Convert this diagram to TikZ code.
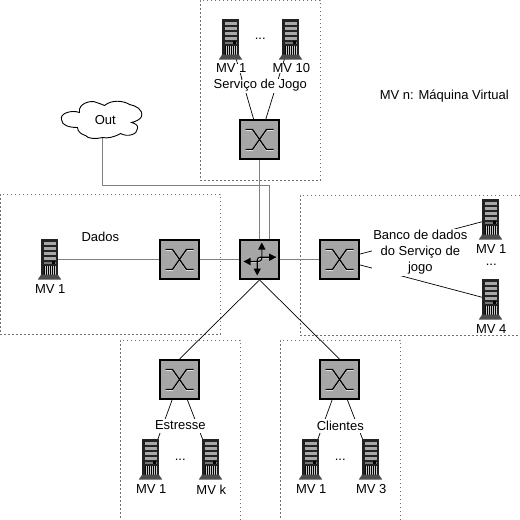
\documentclass[tikz,border=0pt]{standalone}
\usepackage{fontspec}
\setmainfont{Liberation Sans}
\usetikzlibrary{arrows.meta}
\definecolor{linkgray}{HTML}{808080}
\definecolor{zonegray}{HTML}{707070}
\definecolor{boxgray}{HTML}{A6A6A6}
\definecolor{srvdark}{HTML}{222222}
\definecolor{srvlight}{HTML}{A8A8A8}
\tikzset{
  zone/.style={draw=zonegray,line width=1.6pt,dash pattern=on 1.6pt off 2.4pt,inner sep=0pt,anchor=north west},
  link/.style={draw=linkgray,line width=1.7pt},
  wire/.style={draw=black,line width=0.7pt},
  swbox/.style={draw=black,fill=boxgray,line width=2pt,minimum size=39pt,inner sep=0pt},
  srvpt/.style={inner sep=0pt,minimum size=1pt},
  lbl/.style={inner sep=0pt,font=\fontsize{13}{16}\selectfont,text=black,yshift=-1pt,xshift=0.8pt},
  mask/.style={lbl,fill=white,align=center},
  pics/switchsym/.style={code={
    \foreach \c/\d/\o in {white/0.9pt/0.9,black/1.3pt/0}{
      \draw[\c,line width=\d,yshift=-\o pt] (-14,-10) -- (-7,-10) -- (7,10) -- (14,10);
      \draw[\c,line width=\d,yshift=-\o pt] (-14,10) -- (-7,10) -- (7,-10) -- (14,-10);
    }
  }},
  pics/server/.style={code={
    \fill[srvdark] (-8.3,-21) rectangle (8.3,17);
    \foreach \y in {-18,-13,-8,-3}{\fill[srvlight] (-6,\y) rectangle (6,\y+3.8);}
    \fill[srvlight!70!black] (-6,2) rectangle (6,4.5);
    \fill[black] (2.5,1.5) rectangle (5,4);
    \fill[white!80!black] (-6,6) rectangle (6,15);
    \foreach \x in {-5,-3,-1,1,3,5}{\draw[black,line width=1pt] (\x,6) -- (\x,15);}
    \fill[black!70] (-8.3,15) -- (8.3,15) -- (11.7,20) -- (-11.7,20) -- cycle;
  }}
}
\begin{document}
\begin{tikzpicture}[x=1pt,y=-1pt]
\useasboundingbox[clip] (0.5,0.5) rectangle (520.5,520.5);
% zones
\node[zone,minimum width=120pt,minimum height=180pt] (zjogo) at (200,0) {};
\node[zone,minimum width=220pt,minimum height=140pt] (zdados) at (0,194) {};
\node[zone,minimum width=220pt,minimum height=140pt] (zbanco) at (300,195) {};
\node[zone,minimum width=120pt,minimum height=180pt] (zestresse) at (120,340) {};
\node[zone,minimum width=120pt,minimum height=180pt] (zclientes) at (280,340) {};
% anchors
\node[srvpt] (ja) at (231,40) {};
\node[srvpt] (jb) at (291,40) {};
\node[srvpt] (da) at (50,260) {};
\node[srvpt] (ba) at (491,220) {};
\node[srvpt] (bb) at (491,300) {};
\node[srvpt] (ea) at (151,460) {};
\node[srvpt] (eb) at (211,460) {};
\node[srvpt] (ca) at (311,460) {};
\node[srvpt] (cb) at (371,460) {};
\node[swbox] (swj) at (260,140) {};
\node[swbox] (swd) at (180,260) {};
\node[swbox] (swb) at (340,260) {};
\node[swbox] (swe) at (180,380) {};
\node[swbox] (swc) at (340,380) {};
\node[swbox] (rt) at (260,260) {};
\node[inner sep=0pt,minimum width=80pt,minimum height=36pt] (out) at (103,120) {};
\coordinate (bend) at (270,186);
\coordinate (rtin) at (270,240);
% connectors
\draw[link] (out.south) |- (bend) -- (rtin);
\draw[link] (swj) -- (rt);
\draw[link] (da) -- (swd);
\draw[link] (swd) -- (rt);
\draw[link] (rt) -- (swb);
\draw[wire] (rt.south) -- (swe.north);
\draw[wire] (rt.south) -- (swc.north);
\foreach \s/\t in {ja/swj,jb/swj,ba/swb,bb/swb,ea/swe,eb/swe,ca/swc,cb/swc}{\draw[wire] (\s) -- (\t);}
% boxes redrawn above the links
\foreach \n in {swj,swd,swb,swe,swc,rt}{\node[swbox] at (\n) {};}
\foreach \n in {swj,swd,swb,swe,swc}{\pic at (\n) {switchsym};}
% router arrows
\begin{scope}[shift={(rt)}]
  \foreach \c/\d/\o in {white/0.8pt/0.8,black/1.1pt/0}{
    \draw[\c,line width=\d,yshift=-\o pt,rounded corners=3pt] (16,-2.3) -- (-2.3,-2.3) -- (-2.3,14);
    \draw[\c,line width=\d,yshift=-\o pt,rounded corners=3pt] (-14,2) -- (2.3,2) -- (2.3,-15);
  }
  \fill[black] (16.7,-2.3) -- (9.7,-6) -- (9.7,1.4) -- cycle;
  \fill[black] (-16,2) -- (-9,-1.7) -- (-9,5.7) -- cycle;
  \fill[black] (2.3,-17) -- (-1.4,-10) -- (6,-10) -- cycle;
  \fill[black] (-2.3,16) -- (-6,9) -- (1.4,9) -- cycle;
\end{scope}
% cloud
\draw[black,line width=0.9pt,fill=white] (62,120)
  .. controls (60,114) and (72,110) .. (80,113)
  .. controls (78,104) and (92,100) .. (97,103)
  .. controls (100,104) and (103,105) .. (105,106)
  .. controls (112,100) and (124,101) .. (130,105)
  .. controls (136,106) and (144,110) .. (142,117)
  .. controls (141,120) and (136,122) .. (132,123)
  .. controls (136,124) and (139,126) .. (138,129)
  .. controls (138,135) and (128,138) .. (121,134)
  .. controls (114,138) and (108,139) .. (103,138)
  .. controls (96,140) and (88,139) .. (86,136)
  .. controls (82,135) and (78,132) .. (78,128)
  .. controls (70,128) and (62,126) .. (62,120) -- cycle;
\node[lbl] (outtxt) at (105,120) {Out};
% servers
\foreach \n in {ja,jb,da,ba,bb,ea,eb,ca,cb}{\pic at (\n) {server};}
% masks and labels
\node[mask,minimum width=96pt,minimum height=14pt] (tjogo) at (260,85) {Serviço de Jogo};
\node[mask,minimum width=96pt,minimum height=47pt] (tbanco) at (420,251.5) {Banco de dados\\do Serviço de\\jogo};
\node[mask,minimum height=14pt,minimum width=54pt] (testresse) at (180,425) {Estresse};
\node[mask,minimum height=14pt,minimum width=50pt] (tclientes) at (340,425) {Clientes};
\node[lbl] (tdados) at (100,236) {Dados};
\node[lbl] (tlegend) at (444,96) {MV n: Máquina Virtual};
\node[mask] (l1) at (231,68) {MV 1};
\node[mask] (l2) at (291,68) {MV 10};
\node[mask] (l3) at (50,289) {MV 1};
\node[mask] (l4) at (491,249) {MV 1};
\node[mask] (l5) at (491,329) {MV 4};
\node[mask] (l6) at (151,489) {MV 1};
\node[mask] (l7) at (211,489) {MV k};
\node[mask] (l8) at (311,489) {MV 1};
\node[mask] (l9) at (371,489) {MV 3};
\node[lbl,anchor=base] (d1) at (260,39) {...};
\node[lbl,anchor=base] (d2) at (491,265) {...};
\node[lbl,anchor=base] (d3) at (180,460) {...};
\node[lbl,anchor=base] (d4) at (340,460) {...};
\end{tikzpicture}
\end{document}
